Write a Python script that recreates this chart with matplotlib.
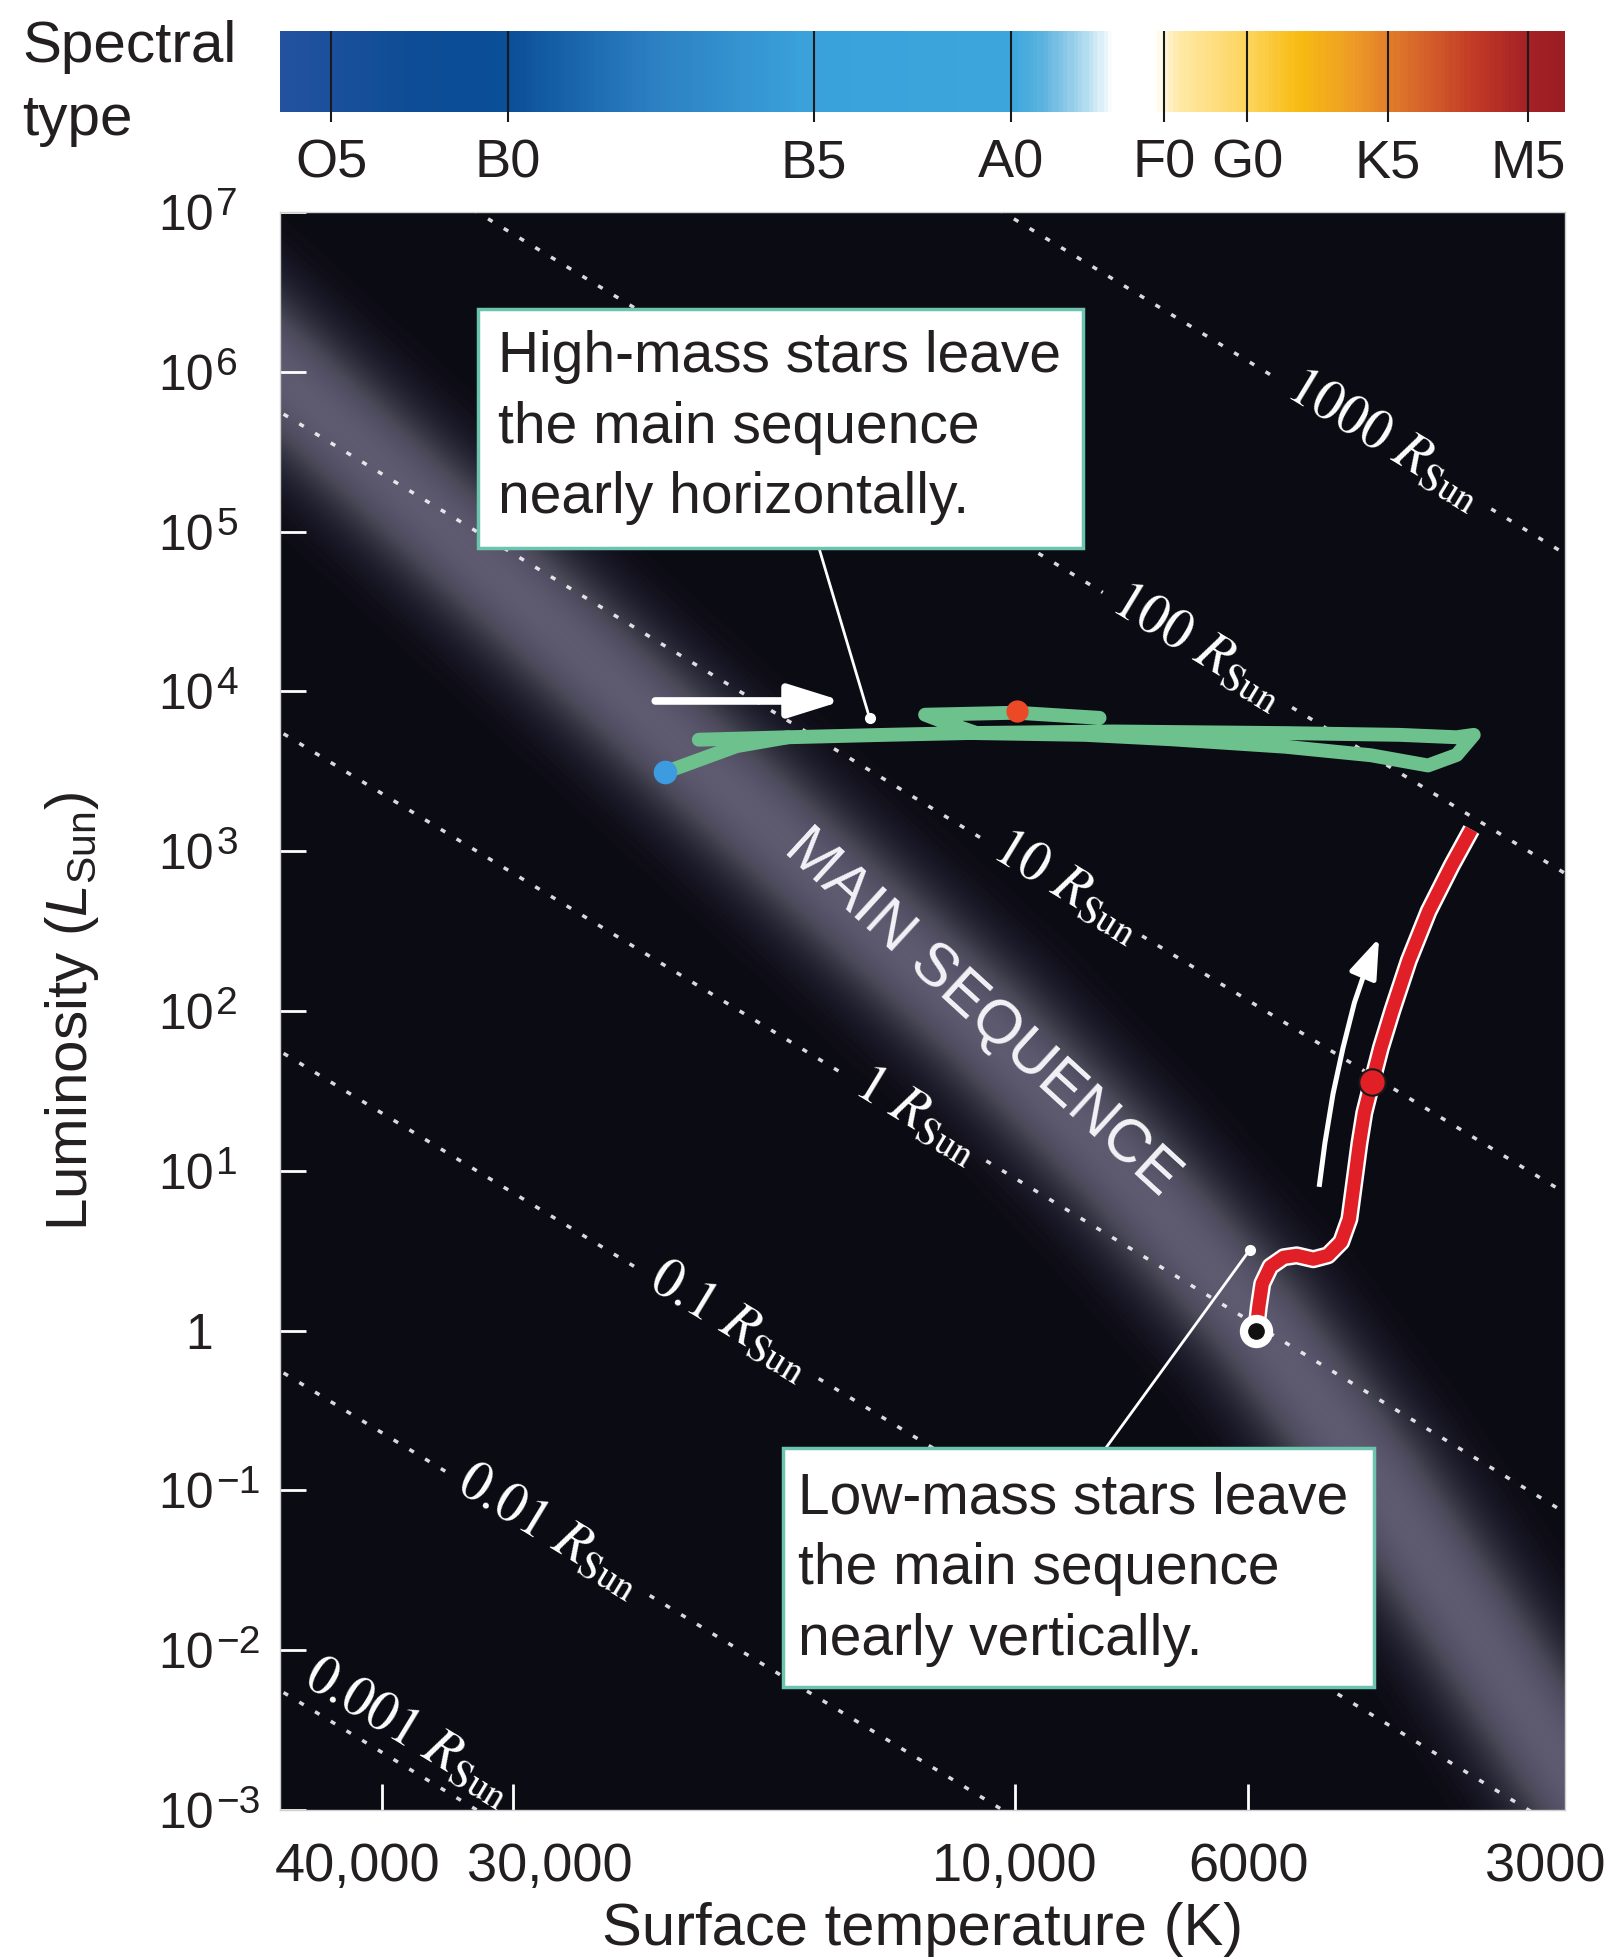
import numpy as np
import matplotlib.pyplot as plt
import matplotlib.transforms as mtransforms
from matplotlib.colors import LinearSegmentedColormap
from matplotlib.patches import Rectangle

plt.rcParams['font.family'] = ['Liberation Sans', 'DejaVu Sans']
plt.rcParams['mathtext.fontset'] = 'custom'
plt.rcParams['mathtext.rm'] = 'Liberation Sans'
plt.rcParams['mathtext.it'] = 'Liberation Sans:italic'
plt.rcParams['mathtext.sf'] = 'Liberation Sans'

####################################
# Values

# Axis ranges
t_hot, t_cool = 50000, 3000
l_low, l_high = 1e-3, 1e7
t_sun = 5778

lum_exponents = [-3, -2, -1, 0, 1, 2, 3, 4, 5, 6, 7]
temp_ticks = [40000, 30000, 10000, 6000, 3000]
temp_labels = ["40,000", "30,000", "10,000", "6000", "3000"]

# Spectral type bar
spec_types = ["O5", "B0", "B5", "A0", "F0", "G0", "K5", "M5"]
spec_temps = [44700, 30350, 15550, 10100, 7220, 6016, 4420, 3255]
bar_temps = [50000, 37400, 30300, 22200, 16000, 10060, 9400, 8600, 8050, 7340,
             6980, 5975, 5355, 4800, 4387, 3654, 3228, 3000]
bar_colors = ["#23529f", "#0d4c96", "#0a4f98", "#2c7fc2", "#3aa1da", "#3ca6dc",
              "#5db3df", "#acd9ee", "#ffffff", "#ffffff", "#fee9a6", "#fdd35a",
              "#f7bb12", "#ef9f24", "#e27d2c", "#c23b26", "#a32026", "#9c1d24"]

# Lines of constant radius (R_Sun) and where their labels sit
radii = [0.001, 0.01, 0.1, 1, 10, 100, 1000]
radius_names = ["0.001", "0.01", "0.1", "1", "10", "100", "1000"]
radius_label_temps = [39000, 27700, 18700, 12400, 8940, 6710, 4460]
radius_gaps = [0.0, 0.095, 0.085, 0.066, 0.072, 0.09, 0.102]

# Main sequence ridge
ms_temp = [61200, 50000, 30940, 17930, 10730, 7905, 5854, 4580, 3681, 3025, 2654]
ms_lum = [3.27e6, 9.61e5, 5.19e4, 1886, 82, 10.3, 1.09, 0.125, 0.0144, 0.00198, 5.6e-4]

# High-mass track (green)
high_temp = [21520, 18400, 16440, 13290, 11160, 8060, 5537, 4310, 3804, 3664, 3804,
             4050, 4591, 5537, 7110, 8580, 10880, 11730, 12180, 9970, 8313]
high_lum = [3123, 4550, 5170, 5352, 5488, 5619, 5488, 5352, 5170, 5352, 4005,
            3443, 3990, 4510, 5024, 5352, 5488, 6513, 7153, 7362, 6836]
high_spur_temp = [19990, 16440]
high_spur_lum = [4990, 5170]
high_start = (21520, 3123)
high_dot = (9970, 7550)
high_pointer = (13750, 6776)
high_arrow_temp = [21990, 14600]
high_arrow_lum = [8722, 8722]

# Low-mass track (red)
sun = (5900, 1.0)
low_temp = [5900, 5866, 5822, 5719, 5555, 5399, 5206, 5042, 4898, 4811, 4758,
            4706, 4656, 4579, 4491, 4379, 4224, 4045, 3846, 3683]
low_lum = [1.0, 1.41, 1.97, 2.52, 2.88, 2.96, 2.80, 2.96, 3.59, 4.99, 8.63,
           14.9, 23.1, 35.8, 58.7, 101, 207, 421, 813, 1368]
low_dot = (4579, 35.8)
low_pointer = (5984, 3.2)
low_arrow_temp = [5140, 5076, 4986, 4879, 4758, 4638, 4508]
low_arrow_lum = [7.94, 14.9, 30.4, 58.7, 113, 185, 287]

text_color = "#231f20"
box_edge = "#6cc4ae"

####################################
# Figure and axes

fig = plt.figure(figsize=(16.16, 19.6), dpi=100)
ax = fig.add_axes([0.1733, 0.0765, 0.7952, 0.8153])
ax_bar = fig.add_axes([0.1733, 0.9429, 0.7952, 0.0413])

ax.set_xscale("log")
ax.set_yscale("log")
ax.set_xlim(t_hot, t_cool)
ax.set_ylim(l_low, l_high)
ax.set_facecolor("#0b0b13")

# Main sequence glow: stacked translucent strokes whose widths give a
# roughly gaussian fall-off across the band
n_glow = 50
sigma = 30  # points
for k in range(1, n_glow + 1):
    w = 2 * sigma * np.sqrt(2 * np.log(n_glow / k + 1e-9)) + 2
    ax.plot(ms_temp, ms_lum, color="#cbc6e4", lw=w, alpha=0.014,
            solid_capstyle="butt", solid_joinstyle="round", zorder=1)

# Slope of the constant radius lines on screen
px_dec_x = ax.bbox.width / np.log10(t_hot / t_cool)
px_dec_y = ax.bbox.height / np.log10(l_high / l_low)
r_angle = -np.degrees(np.arctan(4 * px_dec_y / px_dec_x))

for r, name, t_lab, gap in zip(radii, radius_names, radius_label_temps, radius_gaps):
    t_hi = t_lab * 10**gap
    t_lo = t_lab / 10**gap
    for ta, tb in [(t_hot * 1.5, t_hi), (t_lo, t_cool / 1.5)]:
        ax.plot([ta, tb], [r**2 * (ta / t_sun)**4, r**2 * (tb / t_sun)**4],
                color="white", alpha=0.85, lw=2.5, ls=(0, (1.5, 3.8)), zorder=2)
    off = (15, 26) if gap == 0 else (0, 3)
    ax.annotate(name + r" $R_{\mathrm{Sun}}$", xy=(t_lab, r**2 * (t_lab / t_sun)**4),
                xytext=off, textcoords="offset pixels", rotation=r_angle,
                rotation_mode="anchor", ha="center", va="center", color="white",
                fontsize=40, family="STIXGeneral", math_fontfamily="stix", zorder=2)

ax.text(10760, 98, "MAIN SEQUENCE", rotation=-42.5, rotation_mode="anchor",
        ha="center", va="center", color="#f2f2f7", fontsize=44, zorder=2)

# High-mass track
ax.plot(high_temp, high_lum, color="#6cc18d", lw=10, solid_capstyle="round",
        solid_joinstyle="round", zorder=4)
ax.plot(high_spur_temp, high_spur_lum, color="#6cc18d", lw=10,
        solid_capstyle="round", zorder=4)
ax.plot(*high_start, "o", color="#3d9be0", ms=16, zorder=5)
ax.plot(*high_dot, "o", color="#ec4a26", ms=15, zorder=5)
ax.annotate("", xy=(high_arrow_temp[1], high_arrow_lum[1]),
            xytext=(high_arrow_temp[0], high_arrow_lum[0]),
            arrowprops=dict(arrowstyle="-|>,head_length=0.8,head_width=0.25",
                            color="white", lw=5.5, mutation_scale=40,
                            shrinkA=0, shrinkB=0), zorder=5)

# Low-mass track
ax.plot(low_temp, low_lum, color="white", lw=13, solid_capstyle="butt",
        solid_joinstyle="round", zorder=4)
ax.plot(low_temp, low_lum, color="#e11f26", lw=9.5, solid_capstyle="butt",
        solid_joinstyle="round", zorder=4)
ax.plot(*low_dot, "o", ms=19, mfc="#e11f26", mec="#1a1a1a", mew=1.5, zorder=5)
ax.plot(*sun, "o", ms=23, mfc="white", mec="white", zorder=5)
ax.plot(*sun, "o", ms=11, mfc="#111111", mec="#111111", zorder=6)
ax.plot(low_arrow_temp[:-1], low_arrow_lum[:-1], color="white", lw=3.6,
        solid_capstyle="butt", zorder=5)
ax.annotate("", xy=(low_arrow_temp[-1], low_arrow_lum[-1]),
            xytext=(low_arrow_temp[-2], low_arrow_lum[-2]),
            arrowprops=dict(arrowstyle="-|>,head_length=0.9,head_width=0.32",
                            color="white", lw=3.6, mutation_scale=27,
                            shrinkA=0, shrinkB=0), zorder=5)

# Note boxes with pointers
notes = [
    ((0.1537, 0.7900, 0.6245, 0.9393), (0.1693, 0.8651), (0.4193, 0.7900), high_pointer,
     "High-mass stars leave\nthe main sequence\nnearly horizontally."),
    ((0.3911, 0.0767, 0.8514, 0.2268), (0.4027, 0.1508), (0.6428, 0.2268), low_pointer,
     "Low-mass stars leave\nthe main sequence\nnearly vertically."),
]
for (x0, y0, x1, y1), (tx, ty), start, tip, txt in notes:
    ax.add_patch(Rectangle((x0, y0), x1 - x0, y1 - y0, transform=ax.transAxes,
                           facecolor="white", edgecolor=box_edge, lw=2.5, zorder=6))
    ax.text(tx, ty, txt, transform=ax.transAxes, ha="left", va="center",
            fontsize=41, linespacing=1.4, color=text_color, zorder=7)
    ax.annotate("", xy=tip, xytext=start, textcoords="axes fraction",
                arrowprops=dict(arrowstyle="-", color="white", lw=2,
                                shrinkA=0, shrinkB=0), zorder=5)
    ax.plot(*tip, "o", color="white", ms=7, zorder=5)

# Ticks and labels
ax.minorticks_off()
ax.set_yticks([10.0**e for e in lum_exponents])
ax.set_yticklabels(["1" if e == 0 else "10" for e in lum_exponents])
ax.set_xticks(temp_ticks)
ax.set_xticklabels(temp_labels)
ax.tick_params(axis="both", direction="in", color="white", width=2, length=19)
ax.tick_params(axis="y", labelsize=36, pad=88, labelcolor=text_color)
ax.tick_params(axis="x", labelsize=39, pad=23, labelcolor=text_color)
for lab in ax.get_yticklabels():
    lab.set_horizontalalignment("left")
# the plain "1" sits where the "0" of the "10" labels is
one = ax.get_yticklabels()[lum_exponents.index(0)]
one.set_transform(one.get_transform() + mtransforms.ScaledTranslation(0.275, 0, fig.dpi_scale_trans))
# exponents of the luminosity labels
for e in lum_exponents:
    if e == 0:
        continue
    ax.annotate(str(e).replace("-", "\u2212"), xy=(0, 10.0**e),
                xycoords=("axes fraction", "data"), xytext=(-64, -3),
                textcoords="offset pixels", ha="left", va="baseline",
                fontsize=28, color=text_color, annotation_clip=False)

# tick labels nudged apart as in the original artwork
xlabs = ax.get_xticklabels()
for lab, dx in zip(xlabs, [-0.24, 0.36, 0, 0, -0.2]):
    lab.set_transform(lab.get_transform() + mtransforms.ScaledTranslation(dx, 0, fig.dpi_scale_trans))
ax.xaxis.get_major_ticks()[-1].tick1line.set_visible(False)
for s in ax.spines.values():
    s.set_color("#cfcfcf")
    s.set_linewidth(1)

ax.set_xlabel("Surface temperature (K)", fontsize=43, color=text_color)
ax.xaxis.set_label_coords(0.5, -0.0745)
ax.xaxis.label.set_va("center")
ax.set_ylabel(r"Luminosity ($L_{\mathrm{Sun}}$)", fontsize=42, color=text_color)
ax.yaxis.set_label_coords(-0.1619, 0.5)
ax.yaxis.label.set_va("center")

####################################
# Spectral type colour bar

ax_bar.set_xscale("log")
ax_bar.set_xlim(t_hot, t_cool)
ax_bar.set_ylim(0, 1)
edges = np.geomspace(t_hot, t_cool, 600)
centers = np.sqrt(edges[:-1] * edges[1:])
span = np.log(t_hot / t_cool)
frac = np.log(t_hot / centers) / span
stops = np.clip(np.log(t_hot / np.array(bar_temps)) / span, 0, 1)
stops[0], stops[-1] = 0.0, 1.0
cmap = LinearSegmentedColormap.from_list("spectral", list(zip(stops, bar_colors)))
ax_bar.pcolormesh(edges, [0, 1], frac[np.newaxis, :], cmap=cmap, vmin=0, vmax=1,
                  shading="flat")
ax_bar.vlines(spec_temps, -0.12, 1, transform=ax_bar.get_xaxis_transform(),
              colors="#1a1a1a", lw=1.5, clip_on=False)
ax_bar.minorticks_off()
ax_bar.set_xticks(spec_temps)
ax_bar.set_xticklabels(spec_types)
ax_bar.set_yticks([])
ax_bar.tick_params(axis="x", length=0, pad=19, labelsize=39, labelcolor=text_color)
for s in ax_bar.spines.values():
    s.set_visible(False)

fig.text(0.0136, 0.9574, "Spectral\ntype", ha="left", va="center", fontsize=42,
         linespacing=1.45, color=text_color)

fig.savefig("out.png", dpi=100)
